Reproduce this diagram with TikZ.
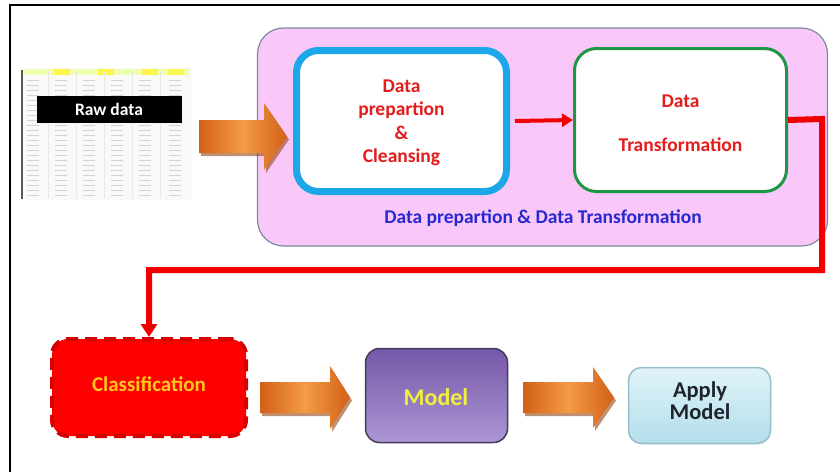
\documentclass[tikz,border=0pt]{standalone}
\usepackage{fontspec}
\setmainfont{Carlito}
\usetikzlibrary{arrows.meta}
\definecolor{redtxt}{RGB}{228,28,28}
\definecolor{titleblue}{RGB}{40,40,210}
\definecolor{pinkfill}{RGB}{250,200,248}
\definecolor{pinkedge}{RGB}{120,140,160}
\definecolor{cyanedge}{RGB}{28,168,232}
\definecolor{greenedge}{RGB}{30,150,70}
\definecolor{connred}{RGB}{240,0,0}
\definecolor{classred}{RGB}{255,0,0}
\definecolor{classedge}{RGB}{215,0,0}
\definecolor{classtxt}{RGB}{255,200,30}
\definecolor{modeltop}{RGB}{118,88,168}
\definecolor{modelbot}{RGB}{172,150,212}
\definecolor{modeledge}{RGB}{70,60,90}
\definecolor{modeltxt}{RGB}{240,240,60}
\definecolor{applytop}{RGB}{225,243,248}
\definecolor{applybot}{RGB}{178,222,235}
\definecolor{applyedge}{RGB}{150,190,200}
\definecolor{applytxt}{RGB}{30,36,44}
\definecolor{orA}{RGB}{210,96,24}
\definecolor{orB}{RGB}{244,156,70}
\definecolor{orS}{RGB}{150,70,20}
\tikzset{
  txt/.style={font=\bfseries\fontsize{19.5}{23.5}\selectfont, align=center},
  outerbox/.style={draw=pinkedge, line width=1.2pt, fill=pinkfill, rounded corners=26pt},
  cleanbox/.style={draw=cyanedge, line width=7pt, fill=white, rounded corners=22pt},
  transbox/.style={draw=greenedge, line width=3pt, fill=white, rounded corners=22pt},
  classbox/.style={draw=classedge, fill=classred, line width=4pt, dash pattern=on 12pt off 7pt, rounded corners=16pt},
  modelbox/.style={draw=modeledge, line width=1.5pt, top color=modeltop, bottom color=modelbot, rounded corners=14pt},
  applybox/.style={draw=applyedge, line width=1.5pt, top color=applytop, bottom color=applybot, rounded corners=13pt},
  redconn/.style={draw=connred, line width=6pt, -{Triangle[width=16pt,length=13pt]}},
  redarrow/.style={draw=connred, line width=4pt, -{Triangle[width=13pt,length=11pt]}},
  blockarrow/.style={left color=orA, right color=orA, middle color=orB, draw=none},
  blockshadow/.style={fill=orS, opacity=0.6, draw=none},
  cell/.style={draw=gray!35, line width=0.9pt}
}
\newcommand{\blockarr}[6]{% x0, x1 (head start), xt (tip), ytop, ybot, headextend
  \fill[blockshadow] (#1+2,#4+3) -- (#2+2,#4+3) -- (#2+2,#4-#6+3) -- (#3+2,{(#4+#5)/2+3}) -- (#2+2,#5+#6+3) -- (#2+2,#5+3) -- (#1+2,#5+3) -- cycle;
  \shade[blockarrow] (#1,#4) -- (#2,#4) -- (#2,#4-#6) -- (#3,{(#4+#5)/2}) -- (#2,#5+#6) -- (#2,#5) -- (#1,#5) -- cycle;
}
\begin{document}
\begin{tikzpicture}[x=1pt,y=-1pt]
\useasboundingbox (0,0) rectangle (840,472);
\fill[white] (0,0) rectangle (840,472);
% frame
\draw[line width=2.5pt] (10,472) -- (10,5) -- (840,5);

% spreadsheet
\fill[gray!5] (22,68) rectangle (192,200);
\fill[green!25!yellow!30] (24,69) rectangle (190,75);
\foreach \cx in {62,106,150,176} {\fill[yellow!70] (\cx-8,69) rectangle (\cx+8,75);}
\draw[gray!70!black, line width=1.5pt] (22,70) -- (22,199);
\foreach \ry in {80,85,...,196} {
  \foreach \cx in {34,62,90,118,146,176} {
    \draw[cell] (\cx-7,\ry) -- (\cx+5,\ry);
  }
}
\foreach \cx in {48,76,104,132,160} {\draw[gray!18, line width=0.6pt] (\cx,72) -- (\cx,198);}
\node[fill=black, text=white, minimum width=145pt, minimum height=27pt, inner sep=0pt,
      font=\bfseries\fontsize{17.5}{19}\selectfont] (raw) at (109,109.5) {Raw data};

% container
\node[outerbox, minimum width=570pt, minimum height=218pt] (prep) at (542.5,137) {};
\node[cleanbox, minimum width=210pt, minimum height=141pt] (clean) at (401.5,121) {};
\node[txt, text=redtxt] at (401.5,123) {Data\\prepartion\\\&\\Cleansing};
\node[transbox, minimum width=212pt, minimum height=143pt] (trans) at (680.5,120) {};
\node[txt, text=redtxt] at (680.5,123) {Data\\[21pt]Transformation};
\node[txt, text=titleblue] (title) at (543,218) {Data prepartion \& Data Transformation};

% orange arrow 1
\blockarr{199}{264}{287}{120}{153}{17}

% red arrows
\draw[redarrow] ([xshift=5pt]clean.east) -- (trans.west);
\coordinate (c1) at (822,119);
\coordinate (c2) at (822,270);

% bottom row
\node[classbox, minimum width=194pt, minimum height=97pt] (class) at (149,387.5) {};
\node[txt, text=classtxt, font=\bfseries\fontsize{21}{24}\selectfont] at (149,384) {Classification};
\node[modelbox, minimum width=142pt, minimum height=94pt] (model) at (436.5,395.5) {};
\node[txt, text=modeltxt, font=\bfseries\fontsize{24}{26}\selectfont] at (436,397) {Model};
\node[applybox, minimum width=142pt, minimum height=76pt] (apply) at (699.5,405.5) {};
\node[txt, text=applytxt, font=\bfseries\fontsize{22.5}{22}\selectfont] at (700,401) {Apply\\Model};

\draw[redconn] (trans.east) -- (c1) -- (c2) -| (class.north);

\blockarr{260}{330}{350}{382}{413}{16}
\blockarr{523}{593}{614}{382}{413}{15}
\end{tikzpicture}
\end{document}
